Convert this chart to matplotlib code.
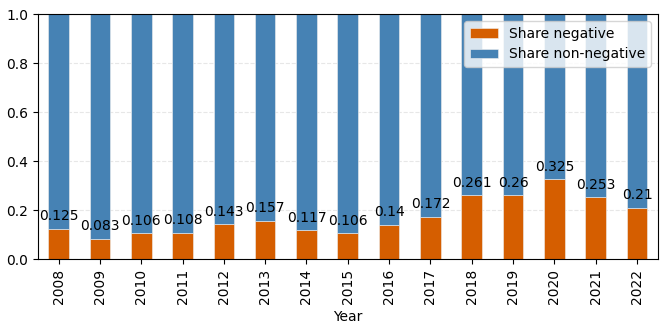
import matplotlib
matplotlib.use("Agg")
import matplotlib.pyplot as plt
import numpy as np

years = ["2008", "2009", "2010", "2011", "2012", "2013", "2014", "2015",
         "2016", "2017", "2018", "2019", "2020", "2021", "2022"]
share_negative = [0.125, 0.083, 0.106, 0.108, 0.143, 0.157, 0.117, 0.106,
                  0.14, 0.172, 0.261, 0.26, 0.325, 0.253, 0.21]
share_nonneg = [round(1 - v, 3) for v in share_negative]

fig = plt.figure(figsize=(6.65, 3.26), dpi=100)
ax = fig.add_axes([0.057, 0.205, 0.932, 0.752])

x = np.arange(len(years))
w = 0.5
ax.bar(x, share_negative, width=w, color="#d55e00", edgecolor="#f0f0f0",
       linewidth=0.4, label="Share negative", zorder=2)
ax.bar(x, share_nonneg, width=w, bottom=share_negative, color="#4682b4",
       edgecolor="#f0f0f0", linewidth=0.4, label="Share non-negative", zorder=2)

for xi, v in zip(x, share_negative):
    ax.annotate(f"{v:g}", (xi, v), xytext=(0, 4), textcoords="offset points",
                ha="center", va="bottom", fontsize=10, zorder=3)

ax.set_xlim(-0.5, len(years) - 0.5)
ax.set_ylim(0, 1.0)
ax.set_xticks(x)
ax.set_xticklabels(years, rotation=90)
ax.set_yticks([0, 0.2, 0.4, 0.6, 0.8, 1.0])
ax.set_xlabel("Year")
ax.grid(axis="y", linestyle="--", alpha=0.3, zorder=0)
ax.set_axisbelow(True)
ax.legend(loc="upper right")

fig.savefig("out.png", dpi=100)
